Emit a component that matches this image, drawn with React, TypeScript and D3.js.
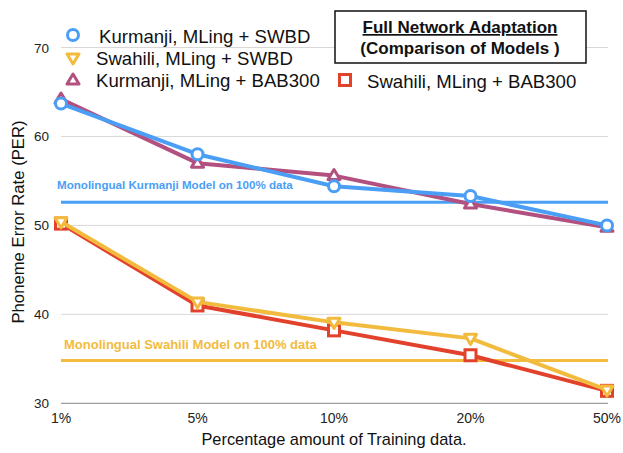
import React from "react";
import * as d3 from "d3";

const categories = ["1%", "5%", "10%", "20%", "50%"];
const yTicks = [30, 40, 50, 60, 70];
const kurmanjiSWBD = [63.7, 58.0, 54.4, 53.3, 50.0];
const swahiliSWBD = [50.4, 41.4, 39.1, 37.3, 31.5];
const kurmanjiBAB = [64.2, 57.0, 55.6, 52.4, 49.8];
const swahiliBAB = [50.2, 41.0, 38.2, 35.4, 31.4];
const kurmanjiMono = 52.6;
const swahiliMono = 34.8;

const seriesNames = [
  "Kurmanji, MLing + SWBD",
  "Swahili, MLing + SWBD",
  "Kurmanji, MLing + BAB300",
  "Swahili, MLing + BAB300",
];

const BLUE = "#4a9ef5";
const YELLOW = "#f2bb3d";
const PURPLE = "#b2507f";
const RED = "#e2412b";
const FONT = "Helvetica, Arial, 'Liberation Sans', sans-serif";

type Shape = "circle" | "tdown" | "tup" | "square";

function Marker({ x, y, shape, color }: { x: number; y: number; shape: Shape; color: string }) {
  const sw = 3;
  if (shape === "circle") return <circle cx={x} cy={y} r={5.5} fill="#fff" stroke={color} strokeWidth={sw} />;
  if (shape === "square") return <rect x={x - 5.5} y={y - 5.5} width={11} height={11} fill="#fff" stroke={color} strokeWidth={sw} />;
  if (shape === "tdown")
    return <path d={`M${x - 6},${y - 4} L${x + 6},${y - 4} L${x},${y + 6} Z`} fill="#fff" stroke={color} strokeWidth={sw} strokeLinejoin="round" />;
  return <path d={`M${x - 6},${y + 4} L${x + 6},${y + 4} L${x},${y - 6} Z`} fill="#fff" stroke={color} strokeWidth={sw} strokeLinejoin="round" />;
}

export default function App() {
  const W = 623, H = 453;
  const x = d3.scalePoint<string>().domain(categories).range([61, 607]);
  const y = d3.scaleLinear().domain([30, 70]).range([403.3, 47.5]);
  const line = d3.line<number>().x((_, i) => x(categories[i])!).y((d) => y(d));

  const series: { data: number[]; color: string; shape: Shape }[] = [
    { data: kurmanjiBAB, color: PURPLE, shape: "tup" },
    { data: swahiliBAB, color: RED, shape: "square" },
    { data: swahiliSWBD, color: YELLOW, shape: "tdown" },
    { data: kurmanjiSWBD, color: BLUE, shape: "circle" },
  ];

  const legend: { name: string; color: string; shape: Shape; mx: number; my: number; tx: number; ty: number }[] = [
    { name: seriesNames[0], color: BLUE, shape: "circle", mx: 73, my: 35, tx: 99, ty: 43 },
    { name: seriesNames[1], color: YELLOW, shape: "tdown", mx: 73, my: 58, tx: 96, ty: 65 },
    { name: seriesNames[2], color: PURPLE, shape: "tup", mx: 73, my: 80, tx: 96, ty: 87 },
    { name: seriesNames[3], color: RED, shape: "square", mx: 345, my: 80, tx: 367, ty: 88 },
  ];

  return (
    <svg width={W} height={H} style={{ position: "absolute", left: 0, top: 0, fontFamily: FONT }}>
      <rect width={W} height={H} fill="#fff" />
      {yTicks.map((t) => (
        <g key={t}>
          <line x1={61} x2={608} y1={y(t)} y2={y(t)} stroke={t === 30 ? "#888" : "#d8d8d8"} strokeWidth={1} />
          <text x={49} y={y(t) + 5} textAnchor="end" fontSize={13.5} fill="#222">{t}</text>
        </g>
      ))}
      {categories.map((c) => (
        <text key={c} x={x(c)!} y={423} textAnchor="middle" fontSize={14} fill="#222">{c}</text>
      ))}
      <text transform={`translate(24,222) rotate(-90)`} textAnchor="middle" fontSize={16.7} fill="#111">Phoneme Error Rate (PER)</text>
      <text x={334} y={445} textAnchor="middle" fontSize={16.4} fill="#111">Percentage amount of Training data.</text>

      <line x1={61} x2={608} y1={y(kurmanjiMono)} y2={y(kurmanjiMono)} stroke={BLUE} strokeWidth={3} />
      <text x={57} y={189} fontSize={11.6} fontWeight="bold" fill={BLUE}>Monolingual Kurmanji Model on 100% data</text>
      <line x1={61} x2={608} y1={y(swahiliMono)} y2={y(swahiliMono)} stroke={YELLOW} strokeWidth={3} />
      <text x={64} y={349} fontSize={13} fontWeight="bold" fill={YELLOW}>Monolingual Swahili Model on 100% data</text>

      {series.map((s, si) => (
        <g key={si}>
          <path d={line(s.data)!} fill="none" stroke={s.color} strokeWidth={4} strokeLinejoin="round" />
          {s.data.map((v, i) => (
            <Marker key={i} x={x(categories[i])!} y={y(v)} shape={s.shape} color={s.color} />
          ))}
        </g>
      ))}

      {legend.map((l) => (
        <g key={l.name}>
          <Marker x={l.mx} y={l.my} shape={l.shape} color={l.color} />
          <text x={l.tx} y={l.ty} fontSize={18.6} fill="#111">{l.name}</text>
        </g>
      ))}

      <rect x={335} y={11} width={251} height={52} fill="#fff" stroke="#111" strokeWidth={1.5} />
      <text x={460} y={33} textAnchor="middle" fontSize={17} fontWeight="bold" fill="#111" textDecoration="underline">Full Network Adaptation</text>
      <text x={460} y={54} textAnchor="middle" fontSize={17} fontWeight="bold" fill="#111">(Comparison of Models )</text>
    </svg>
  );
}
